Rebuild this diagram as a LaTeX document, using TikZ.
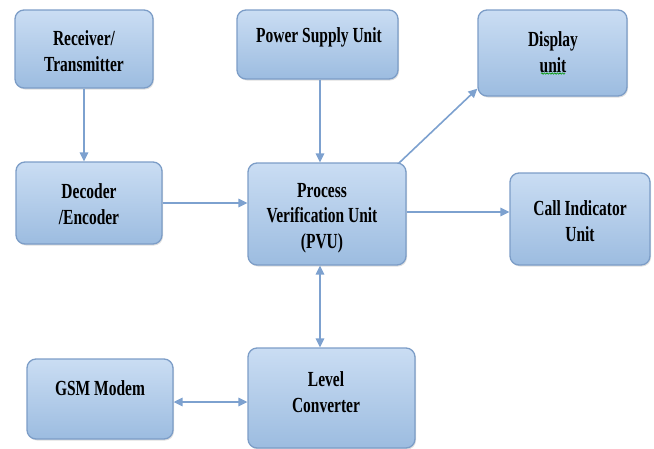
\documentclass[tikz,border=0pt]{standalone}
\usepackage{fontspec}
\newfontfamily\boxfont{Liberation Serif Bold}[FakeStretch=0.72]
\usetikzlibrary{arrows.meta,shadows,decorations.pathmorphing}
\definecolor{boxtop}{HTML}{CADDF3}
\definecolor{boxbot}{HTML}{9CBCE0}
\definecolor{boxline}{HTML}{7C9DC7}
\definecolor{arrowc}{HTML}{7DA1CF}
\tikzset{
  box/.style={draw=boxline, line width=1.3pt, rounded corners=9pt,
    top color=boxtop, bottom color=boxbot, inner sep=0pt,
    drop shadow={shadow xshift=1pt, shadow yshift=-1.5pt, opacity=0.25, fill=black!50}},
  txt/.style={font=\boxfont\fontsize{21.5}{25.5}\selectfont, align=center, inner sep=0pt, text=black},
  arr/.style={draw=arrowc, line width=1.6pt, -{Triangle[length=9pt,width=8.5pt]}},
  arrtwo/.style={draw=arrowc, line width=1.6pt, {Triangle[length=9pt,width=8.5pt]}-{Triangle[length=9pt,width=8.5pt]}},
}
\begin{document}
\begin{tikzpicture}[x=1pt,y=-1pt]
\useasboundingbox (0,0) rectangle (654,448);
% boxes
\node[box, minimum width=138pt, minimum height=78pt] (rt) at (84,49) {};
\node[box, minimum width=161pt, minimum height=69pt] (psu) at (317.5,44.5) {};
\node[box, minimum width=149pt, minimum height=86pt] (disp) at (552.5,53) {};
\node[box, minimum width=146pt, minimum height=82pt] (dec) at (89,203) {};
\node[box, minimum width=158pt, minimum height=102pt] (pvu) at (327,214) {};
\node[box, minimum width=140pt, minimum height=92pt] (call) at (580,219) {};
\node[box, minimum width=146pt, minimum height=80pt] (gsm) at (100,399) {};
\node[box, minimum width=167pt, minimum height=100pt] (lvl) at (331.5,398) {};
% texts
\node[txt] (rtT) at (84,51) {Receiver/\\Transmitter};
\node[txt] (psuT) at (319,37) {Power Supply Unit};
\node[txt] (dispT) at (553,52) {Display\\unit};
\node[txt] (decT) at (89,204) {Decoder\\/Encoder};
\node[txt] (pvuT) at (322,218) {Process\\Verification Unit\\(PVU)};
\node[txt] (callT) at (580,221) {Call Indicator\\Unit};
\node[txt] (gsmT) at (100,388) {GSM Modem};
\node[txt] (lvlT) at (326,392) {Level\\Converter};
% spell-check underline
\draw[green!60!black, line width=0.6pt, decorate,
  decoration={snake, amplitude=0.7pt, segment length=2.6pt}]
  ([xshift=-12pt,yshift=-1pt]dispT.south) -- ([xshift=12pt,yshift=-1pt]dispT.south);
% connectors
\draw[arr] (rt.south) -- (rt.south |- dec.north);
\draw[arr] ([xshift=2.5pt]psu.south) -- ([xshift=2.5pt]psu.south |- pvu.north);
\draw[arr] ([xshift=-8pt,yshift=-1pt]pvu.north east) -- ([yshift=8pt]disp.south west);
\draw[arr] (dec.east) -- (dec.east -| pvu.west);
\draw[arr] ([yshift=2pt]pvu.east) -- ([yshift=2pt]pvu.east -| call.west);
\draw[arrtwo] ([xshift=-7pt]pvu.south) -- ([xshift=-7pt]pvu.south |- lvl.north);
\draw[arrtwo] ([yshift=-3pt]gsm.east) -- ([yshift=-3pt]gsm.east -| lvl.west);
\end{tikzpicture}
\end{document}
